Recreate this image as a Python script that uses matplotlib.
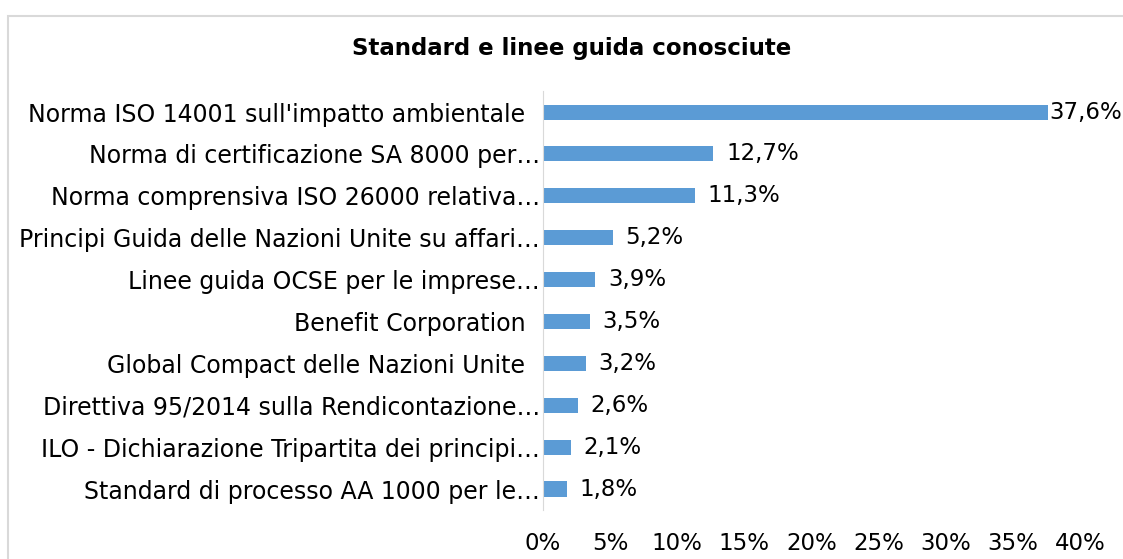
import matplotlib.pyplot as plt
from matplotlib.patches import Rectangle

categories = [
    "Norma ISO 14001 sull'impatto ambientale  ",
    "Norma di certificazione SA 8000 per…",
    "Norma comprensiva ISO 26000 relativa…",
    "Principi Guida delle Nazioni Unite su affari…",
    "Linee guida OCSE per le imprese…",
    "Benefit Corporation  ",
    "Global Compact delle Nazioni Unite  ",
    "Direttiva 95/2014 sulla Rendicontazione…",
    "ILO - Dichiarazione Tripartita dei principi…",
    "Standard di processo AA 1000 per le…",
]
values = [37.6, 12.7, 11.3, 5.2, 3.9, 3.5, 3.2, 2.6, 2.1, 1.8]
xticks = [0, 5, 10, 15, 20, 25, 30, 35, 40]

plt.rcParams['font.family'] = ['DejaVu Sans']
fs = 16.5

fig = plt.figure(figsize=(11.23, 5.59), dpi=100)
ax = fig.add_axes([0.4835, 0.0877, 0.4782, 0.7493])

pos = list(range(len(categories)))
ax.barh(pos, values, height=0.36, color="#5B9BD5")
ax.set_ylim(len(categories) - 0.5, -0.5)
ax.set_xlim(0, 40)

ax.set_yticks(pos)
ax.set_yticklabels(categories, fontsize=17, color="#000000")
ax.set_xticks(xticks)
ax.set_xticklabels([f"{t}%" for t in xticks], fontsize=fs)
ax.tick_params(axis="y", length=0, pad=2)
ax.tick_params(axis="x", length=0, pad=16)

for s in ["top", "right", "bottom"]:
    ax.spines[s].set_visible(False)
ax.spines["left"].set_color("#d9d9d9")

for i, v in enumerate(values):
    off = 1 if v > 35 else 9
    ax.annotate(f"{v:.1f}%".replace(".", ","), (v, i), xytext=(off, 0),
                textcoords="offset points", va="center", ha="left",
                fontsize=fs, annotation_clip=False)

fig.text(0.509, 0.914, "Standard e linee guida conosciute", ha="center",
         va="center", fontsize=fs, fontweight="bold")

fig.patches.append(Rectangle((8 / 1123, -0.1), 1.2, 1 - 16 / 559 + 0.1,
                             transform=fig.transFigure, fill=False,
                             edgecolor="#d9d9d9", linewidth=1.5))

fig.savefig("out.png", dpi=100)
